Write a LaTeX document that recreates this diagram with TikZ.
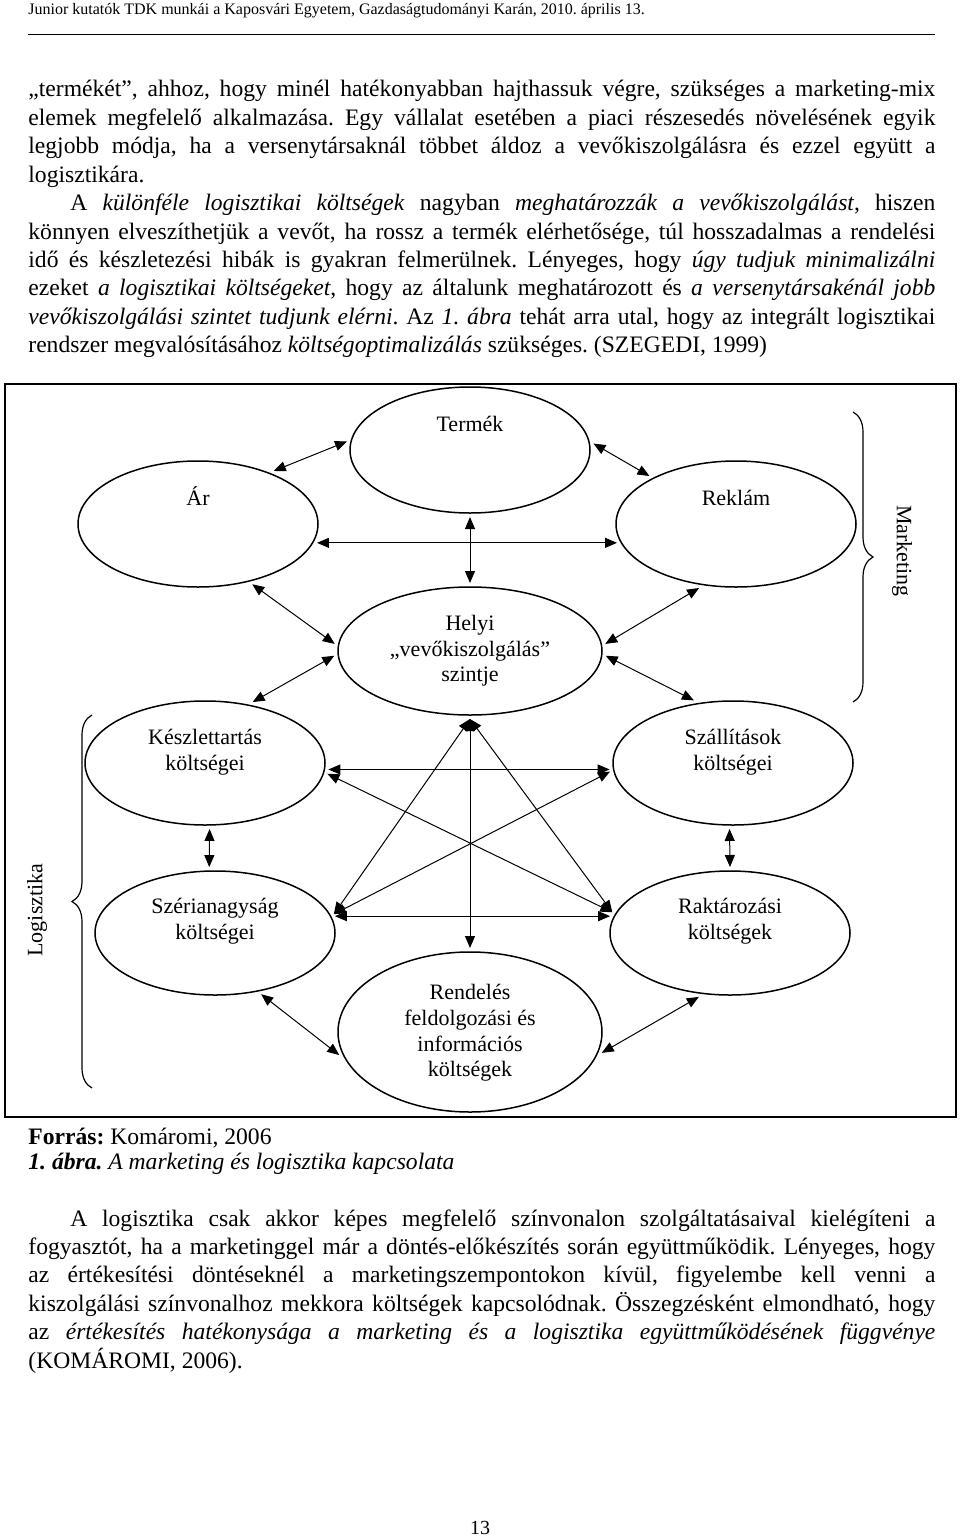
\documentclass[tikz,border=0pt]{standalone}
\usepackage{fontspec}
\setmainfont{Liberation Serif}
\usetikzlibrary{arrows.meta,shapes.geometric,decorations.pathreplacing}
\tolerance=10000
\hyphenpenalty=10000
\exhyphenpenalty=10000
\frenchspacing
\tikzset{
  oval/.style={ellipse,draw,line width=0.75pt,inner sep=0pt,outer sep=2pt},
  otext/.style={align=center,inner sep=0pt,font=\fontsize{11}{12.85}\selectfont},
  para/.style={anchor=base west,inner sep=0pt,text width=453.5pt,align=justify,
    font=\fontsize{11.8}{14.2}\selectfont},
  oneline/.style={anchor=base west,inner sep=0pt,font=\fontsize{11.8}{14.2}\selectfont},
  % every connector of the figure is two-headed
  arr/.style={{Triangle[length=6pt,width=5pt]}-{Triangle[length=6pt,width=5pt]},
    line width=0.5pt},
  brc/.style={decorate,decoration={brace,amplitude=10pt},line width=0.6pt},
  side/.style={inner sep=0pt,font=\fontsize{11}{13}\selectfont}
}

\begin{document}
\begin{tikzpicture}[x=0.5pt,y=-0.5pt]
  \useasboundingbox (0,0) rectangle (960,1536);
  \node[oneline,font=\fontsize{8}{9.6}\selectfont] (head) at (28,15)
    {Junior kutatók TDK munkái a Kaposvári Egyetem, Gazdaságtudományi Karán, 2010. április 13.};
  \draw[line width=0.5pt] (28,35) -- (935,35);

  \node[para] (p1) at (28,97) {„termékét”, ahhoz, hogy minél hatékonyabban hajthassuk végre, szükséges a marketing-mix\linebreak
    elemek megfelelő alkalmazása. Egy vállalat esetében a piaci részesedés növelésének egyik\linebreak
    legjobb módja, ha a versenytársaknál többet áldoz a vevőkiszolgálásra és ezzel együtt a\linebreak
    logisztikára.};
  \node[para] (p2) at (28,210.6) {\hspace*{21pt}A \textit{különféle logisztikai költségek} nagyban \textit{meghatározzák a vevőkiszolgálást}, hiszen\linebreak
    könnyen elveszíthetjük a vevőt, ha rossz a termék elérhetősége, túl hosszadalmas a rendelési\linebreak
    idő és készletezési hibák is gyakran felmerülnek. Lényeges, hogy \textit{úgy tudjuk minimalizálni}\linebreak
    ezeket \textit{a logisztikai költségeket}, hogy az általunk meghatározott és \textit{a versenytársakénál jobb}\linebreak
    \textit{vevőkiszolgálási szintet tudjunk elérni}. Az \textit{1. ábra} tehát arra utal, hogy az integrált logisztikai\linebreak
    rendszer megvalósításához \textit{költségoptimalizálás} szükséges. (SZEGEDI, 1999)};

  \draw[line width=1pt] (5,384) rectangle (956,1117);

  \node[oval,minimum width=120pt,minimum height=63pt] (termek) at (470,450) {};
  \node[oval,minimum width=120pt,minimum height=63pt] (ar) at (198,524) {};
  \node[oval,minimum width=120pt,minimum height=63pt] (reklam) at (736,524) {};
  \node[oval,minimum width=132pt,minimum height=64pt] (helyi) at (470,651) {};
  \node[oval,minimum width=120pt,minimum height=62pt] (kesz) at (205,763) {};
  \node[oval,minimum width=120pt,minimum height=62pt] (szall) at (733,763) {};
  \node[oval,minimum width=120pt,minimum height=62pt] (szeria) at (215,933) {};
  \node[oval,minimum width=120pt,minimum height=62pt] (rakt) at (730,933) {};
  \node[oval,minimum width=132pt,minimum height=80pt] (rend) at (470,1032) {};

  \node[otext,anchor=base] (termek-t) at (470,431) {Termék};
  \node[otext,anchor=base] (ar-t) at (198,505) {Ár};
  \node[otext,anchor=base] (reklam-t) at (736,505) {Reklám};
  \node[otext] (helyi-t) at (470,651) {Helyi\\„vevőkiszolgálás”\\szintje};
  \node[otext] (kesz-t) at (205,752) {Készlettartás\\költségei};
  \node[otext] (szall-t) at (733,752) {Szállítások\\költségei};
  \node[otext] (szeria-t) at (215,921) {Szérianagyság\\költségei};
  \node[otext] (rakt-t) at (730,921) {Raktározási\\költségek};
  \node[otext] (rend-t) at (470,1033) {Rendelés\\feldolgozási és\\információs\\költségek};

  \draw[arr] (termek.176) -- (ar.35);
  \draw[arr] (termek.3) -- (reklam.151);
  \draw[arr] (ar.-9.5) -- (reklam.189.5);
  \draw[arr] (termek.south) -- (helyi.north);
  \draw[arr] (ar.-48) -- (helyi.177.5);
  \draw[arr] (reklam.-120) -- (helyi.3);
  \draw[arr] (helyi.182) -- (kesz.52);
  \draw[arr] (helyi.-2) -- (szall.122);
  \draw[arr] (helyi.south) -- (szeria.9);
  \draw[arr] (helyi.south) -- (rakt.170.5);
  \draw[arr] (helyi.south) -- (rend.north);
  \draw[arr] (kesz.-3.3) -- (szall.183.3);
  \draw[arr] (kesz.-5.6) -- (rakt.170.5);
  \draw[arr] (szall.184) -- (szeria.9);
  \draw[arr] (szeria.8) -- (rakt.172);
  \draw[arr] (kesz.-86) -- (szeria.95);
  \draw[arr] (szall.-93) -- (rakt.north);
  \draw[arr] (szeria.-53) -- (rend.190);
  \draw[arr] (rakt.-116) -- (rend.-9);

  \draw[brc] (853,412) -- (853,702);
  \draw[brc] (92,1088) -- (92,715);
  \node[side,rotate=-90] (mkt) at (902,551) {Marketing};
  \node[side,rotate=90] (logi) at (37,910) {Logisztika};

  \node[oneline] (forras) at (28,1144) {\textbf{Forrás:} Komáromi, 2006};
  \node[oneline] (abra) at (28,1169) {\textbf{\textit{1. ábra.}} \textit{A marketing és logisztika kapcsolata}};

  \node[para] (p3) at (28,1226) {\hspace*{21pt}A logisztika csak akkor képes megfelelő színvonalon szolgáltatásaival kielégíteni a\linebreak
    fogyasztót, ha a marketinggel már a döntés-előkészítés során együttműködik. Lényeges, hogy\linebreak
    az értékesítési döntéseknél a marketingszempontokon kívül, figyelembe kell venni a\linebreak
    kiszolgálási színvonalhoz mekkora költségek kapcsolódnak. Összegzésként elmondható, hogy\linebreak
    az \textit{értékesítés hatékonysága a marketing és a logisztika együttműködésének függvénye}\linebreak
    (KOMÁROMI, 2006).};

  \node[oneline,anchor=base,font=\fontsize{10}{12}\selectfont] (pnum) at (480,1534) {13};
\end{tikzpicture}
\end{document}
